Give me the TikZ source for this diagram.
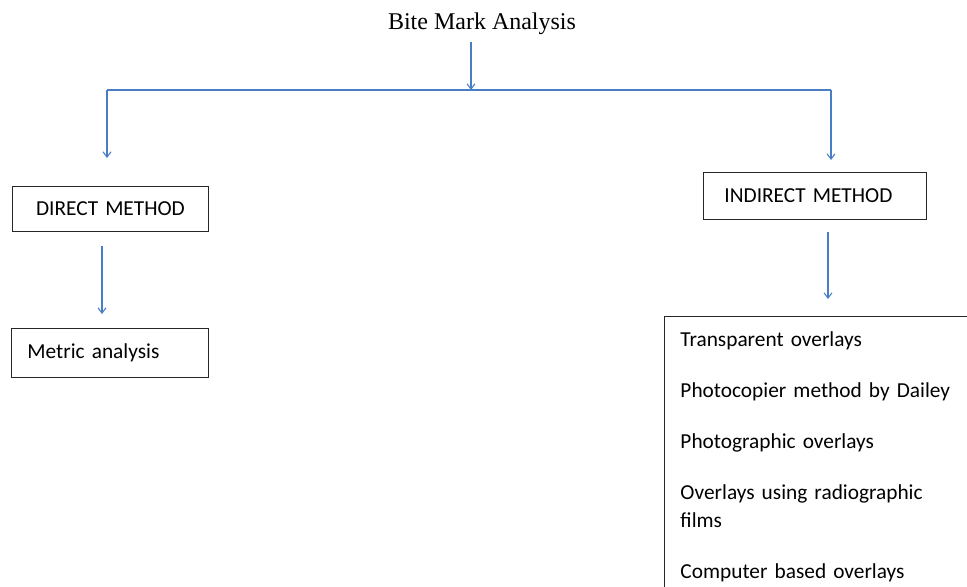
\documentclass[tikz,border=0pt]{standalone}
\usepackage{fontspec}
\setmainfont{Carlito}
\newfontfamily\titlefont{Liberation Serif}
\usepackage{tikz}
\usetikzlibrary{arrows.meta}
\definecolor{linkblue}{HTML}{4A7EC4}

\begin{document}
\begin{tikzpicture}[x=0.75pt, y=-0.75pt,
    link/.style={draw=linkblue, line width=0.8pt},
    flow/.style={link, -{Straight Barb[length=4pt, width=6pt]}},
    methodbox/.style={draw=black!85, line width=0.7pt, align=left, font=\fontsize{16}{19}\selectfont, inner ysep=0pt},
    ]
    \useasboundingbox (0,0) rectangle (967,586);
    \clip (0,0) rectangle (967,586);

    \node[anchor=base, font=\titlefont\fontsize{18}{20}\selectfont] (title) at (482,29) {Bite Mark Analysis};

    \node[methodbox, anchor=north west, inner xsep=4pt, text width=139pt, align=center, minimum height=33.75pt] (direct) at (12,186) {DIRECT METHOD};
    \node[methodbox, anchor=north west, inner xsep=15.75pt, text width=135.75pt, minimum height=35.25pt] (indirect) at (703,172) {INDIRECT METHOD};
    \node[methodbox, anchor=north west, inner xsep=12pt, text width=123.75pt, minimum height=36.75pt] (metric) at (11,328) {Metric analysis};
    \node[methodbox, anchor=north west, inner xsep=12pt, inner ysep=11.5pt, text width=240pt, font=\fontsize{16}{21}\selectfont] (overlays) at (664,316)
        {Transparent overlays\\[17.25pt]
         Photocopier method by Dailey\\[17.25pt]
         Photographic overlays\\[17.25pt]
         Overlays using radiographic\\
         films\\[17.25pt]
         Computer based overlays\\[20pt]};

    % connectors
    \coordinate (titleout) at (471,42);
    \coordinate (fork) at (471,90);
    \coordinate (forkL) at (107,90);
    \coordinate (forkR) at (831,90);
    \coordinate (directin) at (107,158);
    \coordinate (indirectin) at (831,160);
    \coordinate (directout) at (102,246);
    \coordinate (metricin) at (102,314);
    \coordinate (indirectout) at (828,232);
    \coordinate (overlaysin) at (828,299);

    \draw[link] (forkL) -- (forkR);
    \draw[flow] (titleout) -- (fork);
    \draw[flow] (forkL) -- (directin);
    \draw[flow] (forkR) -- (indirectin);
    \draw[flow] (directout) -- (metricin);
    \draw[flow] (indirectout) -- (overlaysin);
\end{tikzpicture}
\end{document}
